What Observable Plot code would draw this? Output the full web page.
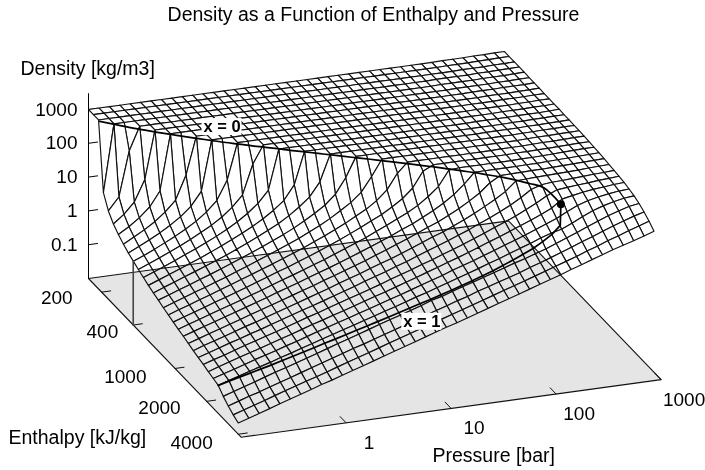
<!DOCTYPE html>
<html>
<head>
<meta charset="utf-8">
<script src="https://cdn.jsdelivr.net/npm/d3@7"></script>
<script src="https://cdn.jsdelivr.net/npm/@observablehq/plot@0.6"></script>
<style>body{margin:0;background:#fff}svg{display:block}</style>
</head>
<body>
<div id="chart"></div>
<script>
// Mesh axes: pressure [bar] per row, enthalpy [kJ/kg] per column
const pressure = [0.1,0.126,0.158,0.199,0.249,0.313,0.394,0.495,0.622,0.781,0.98,1.23,1.55,1.95,2.45,3.07,3.86,4.85,6.09,7.65,9.6,12.1,15.2,19,23.9,30,37.7,47.4,59.5,74.7,93.8,118,148,186,234,294,369,464,583,732,912];
const enthalpy = [150,167,187,208,232,259,289,323,360,402,448,500,558,622,694,775,864,964,1076,1200,1339,1494,1667,1860,2075,2315,2583,2882,3216,3588,4000];
// log10(density [kg/m3]); one row per pressure, one column per enthalpy
const logDensity = [
[3,3,3,1,.61,.38,.22,.09,-.02,-.11,-.2,-.28,-.36,-.43,-.49,-.56,-.62,-.68,-.74,-.79,-.85,-.91,-.96,-1.01,-1.07,-1.12,-1.17,-1.34,-1.47,-1.58,-1.67],
[3,3,3,2.99,.98,.62,.41,.26,.13,.02,-.07,-.16,-.24,-.31,-.38,-.45,-.51,-.57,-.63,-.69,-.75,-.8,-.86,-.91,-.97,-1.02,-1.07,-1.24,-1.37,-1.48,-1.57],
[3,3,3,2.99,2.3,.94,.63,.43,.28,.16,.06,-.04,-.12,-.2,-.27,-.34,-.41,-.47,-.53,-.59,-.65,-.71,-.76,-.82,-.87,-.93,-.98,-1.14,-1.27,-1.38,-1.47],
[3,3,3,2.99,2.99,1.56,.91,.63,.45,.31,.19,.09,0,-.08,-.16,-.23,-.3,-.37,-.43,-.49,-.55,-.61,-.66,-.72,-.77,-.83,-.88,-1.04,-1.18,-1.28,-1.37],
[3,3,3,2.99,2.99,2.99,1.34,.87,.63,.46,.33,.22,.12,.03,-.05,-.13,-.2,-.26,-.33,-.39,-.45,-.51,-.57,-.62,-.68,-.73,-.79,-.94,-1.08,-1.18,-1.27],
[3,3,3,2.99,2.99,2.99,2.99,1.18,.84,.63,.48,.35,.24,.15,.06,-.02,-.09,-.16,-.23,-.29,-.35,-.41,-.47,-.53,-.59,-.64,-.7,-.84,-.98,-1.08,-1.17],
[3,3,3,2.99,2.99,2.99,2.99,1.88,1.11,.82,.64,.49,.37,.27,.18,.09,.02,-.06,-.13,-.19,-.25,-.32,-.38,-.43,-.49,-.55,-.6,-.75,-.88,-.98,-1.07],
[3,3,3,2.99,2.99,2.99,2.99,2.99,1.51,1.05,.81,.64,.51,.39,.3,.21,.13,.05,-.02,-.09,-.15,-.22,-.28,-.34,-.39,-.45,-.51,-.65,-.78,-.88,-.97],
[3,3,3,2.99,2.99,2.99,2.99,2.99,2.99,1.35,1.01,.8,.65,.52,.42,.32,.24,.16,.08,.01,-.05,-.12,-.18,-.24,-.3,-.36,-.41,-.55,-.68,-.79,-.87],
[3,3,3,2.99,2.99,2.99,2.99,2.99,2.99,1.91,1.26,.98,.8,.66,.54,.44,.35,.27,.19,.12,.05,-.02,-.08,-.14,-.2,-.26,-.32,-.45,-.58,-.69,-.78],
[3,3,3,2.99,2.99,2.99,2.99,2.99,2.99,2.98,1.58,1.19,.96,.8,.67,.56,.46,.38,.3,.22,.15,.08,.02,-.04,-.1,-.16,-.22,-.35,-.48,-.59,-.68],
[3,3,3,2.99,2.99,2.99,2.99,2.99,2.99,2.98,2.45,1.44,1.14,.95,.8,.68,.58,.48,.4,.32,.25,.18,.11,.05,-.01,-.07,-.13,-.25,-.38,-.49,-.58],
[3,3,3,2.99,2.99,2.99,2.99,2.99,2.99,2.98,2.98,1.79,1.35,1.11,.94,.81,.7,.6,.51,.43,.35,.28,.21,.15,.09,.03,-.03,-.15,-.28,-.39,-.48],
[3,3,3,2.99,2.99,2.99,2.99,2.99,2.99,2.98,2.98,2.97,1.6,1.3,1.09,.94,.82,.71,.62,.54,.46,.38,.31,.25,.18,.12,.06,-.05,-.19,-.29,-.38],
[3,3,3,2.99,2.99,2.99,2.99,2.99,2.99,2.98,2.98,2.97,2.02,1.52,1.26,1.09,.95,.83,.73,.64,.56,.49,.41,.35,.28,.22,.16,.05,-.09,-.19,-.28],
[3,3,3,2.99,2.99,2.99,2.99,2.99,2.99,2.98,2.98,2.97,2.97,1.77,1.44,1.23,1.08,.95,.85,.75,.67,.59,.51,.44,.38,.31,.25,.15,.01,-.09,-.18],
[3,3,3,2.99,2.99,2.99,2.99,2.99,2.99,2.98,2.98,2.97,2.97,2.18,1.64,1.4,1.22,1.08,.97,.86,.77,.69,.62,.54,.48,.41,.35,.25,.11,.01,-.08],
[3,3,3,2.99,2.99,2.99,2.99,2.99,2.99,2.98,2.98,2.97,2.97,2.96,1.92,1.59,1.37,1.22,1.09,.98,.88,.8,.72,.64,.57,.51,.44,.34,.21,.11,.02],
[3,3,3,2.99,2.99,2.99,2.99,2.99,2.99,2.98,2.98,2.97,2.97,2.96,2.37,1.79,1.54,1.36,1.21,1.1,1,.91,.82,.75,.67,.6,.54,.44,.31,.21,.12],
[3,3,3,2.99,2.99,2.99,2.99,2.99,2.99,2.98,2.98,2.97,2.97,2.96,2.96,2.05,1.7,1.51,1.35,1.22,1.11,1.01,.93,.85,.77,.7,.64,.54,.41,.31,.22],
[3,3,3,2.99,2.99,2.99,2.99,2.99,2.99,2.98,2.98,2.97,2.97,2.96,2.96,2.47,1.91,1.65,1.49,1.34,1.23,1.12,1.03,.95,.87,.8,.73,.65,.51,.4,.32],
[3,3,3,2.99,2.99,2.99,2.99,2.99,2.99,2.98,2.98,2.97,2.97,2.96,2.96,2.95,2.19,1.84,1.64,1.48,1.35,1.24,1.15,1.06,.98,.9,.83,.73,.61,.5,.41],
[3,3,3,2.99,2.99,2.99,2.99,2.99,2.99,2.98,2.98,2.97,2.97,2.96,2.96,2.95,2.64,2.04,1.78,1.6,1.48,1.36,1.26,1.16,1.08,1,.93,.83,.71,.6,.51],
[3,3,3,2.99,2.99,2.99,2.99,2.99,2.99,2.98,2.98,2.97,2.97,2.96,2.96,2.95,2.93,2.31,1.95,1.75,1.61,1.48,1.37,1.27,1.19,1.11,1.03,.93,.8,.7,.61],
[3,3,3,2.99,2.99,2.99,2.99,2.99,2.99,2.98,2.98,2.97,2.97,2.96,2.96,2.95,2.93,2.77,2.17,1.91,1.73,1.59,1.48,1.38,1.29,1.21,1.13,1.02,.91,.8,.71],
[3,3,3,2.99,2.99,2.99,2.99,2.99,2.99,2.98,2.98,2.97,2.97,2.96,2.96,2.95,2.93,2.92,2.43,2.09,1.88,1.72,1.6,1.49,1.4,1.31,1.23,1.12,1,.9,.81],
[3,3,3,2.99,2.99,2.99,2.99,2.99,2.99,2.98,2.98,2.97,2.97,2.96,2.96,2.95,2.93,2.92,2.87,2.3,2.04,1.86,1.72,1.61,1.51,1.42,1.34,1.22,1.1,1,.91],
[3,3,3,2.99,2.99,2.99,2.99,2.99,2.99,2.98,2.98,2.97,2.97,2.96,2.96,2.95,2.93,2.92,2.9,2.57,2.22,2.01,1.86,1.73,1.63,1.53,1.44,1.32,1.19,1.1,1.01],
[3,3,3,2.99,2.99,2.99,2.99,2.99,2.99,2.98,2.98,2.97,2.97,2.96,2.96,2.95,2.93,2.92,2.9,2.88,2.42,2.17,1.99,1.86,1.74,1.64,1.55,1.42,1.29,1.2,1.11],
[3,3,3,2.99,2.99,2.99,2.99,2.99,2.99,2.98,2.98,2.97,2.97,2.96,2.96,2.95,2.93,2.92,2.9,2.88,2.68,2.34,2.13,1.98,1.86,1.75,1.66,1.51,1.4,1.3,1.21],
[3,3,3,2.99,2.99,2.99,2.99,2.99,2.99,2.98,2.98,2.97,2.97,2.96,2.96,2.95,2.93,2.92,2.9,2.88,2.85,2.53,2.28,2.11,1.98,1.86,1.76,1.61,1.5,1.4,1.31],
[3,3,3,2.99,2.99,2.99,2.99,2.99,2.99,2.98,2.98,2.97,2.97,2.96,2.96,2.95,2.93,2.92,2.9,2.88,2.86,2.8,2.46,2.26,2.1,1.98,1.88,1.71,1.61,1.51,1.41],
[3,3,3,3,3,2.99,2.99,2.99,2.99,2.98,2.98,2.98,2.97,2.97,2.96,2.95,2.94,2.92,2.9,2.88,2.86,2.82,2.66,2.41,2.23,2.1,1.98,1.83,1.72,1.61,1.52],
[3,3,3,3,3,3,2.99,2.99,2.99,2.99,2.98,2.98,2.97,2.97,2.96,2.95,2.94,2.93,2.91,2.89,2.87,2.83,2.76,2.58,2.37,2.22,2.06,1.95,1.83,1.71,1.62],
[3.01,3.01,3,3,3,3,3,2.99,2.99,2.99,2.98,2.98,2.97,2.97,2.96,2.95,2.94,2.93,2.91,2.89,2.87,2.84,2.79,2.72,2.6,2.38,2.19,2.07,1.95,1.83,1.73],
[3.01,3.01,3.01,3,3,3,3,3,2.99,2.99,2.99,2.98,2.98,2.97,2.97,2.96,2.95,2.94,2.92,2.9,2.88,2.85,2.8,2.75,2.66,2.52,2.34,2.2,2.06,1.93,1.83],
[3.01,3.01,3.01,3.01,3.01,3,3,3,3,2.99,2.99,2.99,2.98,2.98,2.97,2.97,2.96,2.94,2.93,2.91,2.89,2.86,2.82,2.78,2.72,2.62,2.48,2.32,2.18,2.05,1.94],
[3.02,3.02,3.01,3.01,3.01,3.01,3.01,3,3,3,2.99,2.99,2.99,2.98,2.98,2.97,2.96,2.95,2.94,2.92,2.9,2.87,2.84,2.8,2.76,2.69,2.58,2.44,2.29,2.15,2.03],
[3.02,3.02,3.02,3.02,3.01,3.01,3.01,3.01,3,3,3,2.99,2.99,2.99,2.98,2.98,2.97,2.96,2.95,2.93,2.91,2.89,2.86,2.83,2.79,2.74,2.66,2.54,2.4,2.26,2.12],
[3.03,3.03,3.02,3.02,3.02,3.02,3.01,3.01,3.01,3.01,3,3,3,2.99,2.99,2.98,2.98,2.97,2.96,2.94,2.92,2.9,2.87,2.85,2.82,2.78,2.72,2.63,2.5,2.36,2.22],
[3.03,3.03,3.03,3.03,3.03,3.02,3.02,3.02,3.01,3.01,3.01,3.01,3,3,2.99,2.99,2.98,2.97,2.96,2.95,2.93,2.91,2.89,2.87,2.84,2.8,2.75,2.68,2.58,2.46,2.32]
];
// Saturation lines, ending at the critical point
const satPressure = [0.1,0.126,0.158,0.199,0.249,0.313,0.394,0.495,0.622,0.781,0.98,1.23,1.55,1.95,2.45,3.07,3.86,4.85,6.09,7.65,9.6,12.1,15.2,19,23.9,30,37.7,47.4,59.5,74.7,93.8,118,148,186,220];
const satLiquidH = [192,211,231,251,272,293,316,339,364,390,415,444,470,500,533,564,598,635,673,712,753,800,847,897,953,1008,1073,1141,1212,1295,1379,1486,1606,1750,2150];
const satVaporH = [2584,2592,2601,2609,2618,2626,2635,2645,2655,2665,2675,2685,2695,2706,2716,2726,2737,2747,2757,2767,2776,2784,2791,2797,2802,2804,2803,2797,2786,2765,2739,2692,2625,2510,2150];
const satLiquidRho = [990,988,986,983,980,978,975,971,967,963,959,954,949,943,937,930,923,915,906,897,887,875,863,850,834,822,802,780,758,730,700,660,612,545,322];
const satVaporRho = [0.068,0.083,0.1,0.12,0.145,0.175,0.215,0.265,0.325,0.4,0.495,0.605,0.75,0.93,1.15,1.42,1.76,2.2,2.75,3.4,4.2,5.3,6.6,8.3,10.5,13.4,17.2,22.4,29.2,38,50,68,93,135,322];
const critical = {P:220, h:2150, rho:322};
// Axis ticks
const densityTicks = [1000,100,10,1,0.1];
const enthalpyTicks = [200,400,1000,2000,4000];
const pressureTicks = [1,10,100,1000];
const P0=0.1, P1=1000, H0=150, H1=4260, RHO0=0.01, RHO1=2950;

// Oblique view: screen axes in "decades", per decade of P and h
const PX=105, PY=14.4, HY=109.2, ZY=33.8, X0=88, Y0=278;
const U=p=>Math.log10(p/P0), V=h=>Math.log10(h/H0);
const sx=(p,h)=>U(p)+V(h);
const sy=(p,h,lr)=>(lr-Math.log10(RHO0))+(PY/ZY)*U(p)-(HY/ZY)*V(h);
const pt=(p,h,rho)=>({x:sx(p,h),y:sy(p,h,Math.log10(rho))});

// Surface cells, painted far to near so nearer cells hide what lies behind
const cells=[]; let id=0;
for(let i=pressure.length-2;i>=0;i--)for(let j=0;j<enthalpy.length-1;j++){
  id++;
  for(const [a,b] of [[i,j],[i+1,j],[i+1,j+1],[i,j+1],[i,j]])
    cells.push({id,x:sx(pressure[a],enthalpy[b]),y:sy(pressure[a],enthalpy[b],logDensity[a][b])});
}
const floorPts=[[P0,H0],[P1,H0],[P1,H1],[P0,H1],[P0,H0]].map(([p,h])=>pt(p,h,RHO0));
const satLiquid=satPressure.map((p,i)=>pt(p,satLiquidH[i],satLiquidRho[i]));
const satVapor=satPressure.map((p,i)=>pt(p,satVaporH[i],satVaporRho[i]));
const zAxis=[pt(P0,H0,RHO0),pt(P0,H0,RHO1)];
const h400Post=[pt(P0,400,RHO0),pt(P0,400,0.78)];
const seg=(a,b,k)=>[{...a,k},{...b,k}];
const zTickSegs=densityTicks.flatMap((r,k)=>seg(pt(P0,H0,r),pt(P0*1.22,H0,r),k));
const hTickSegs=enthalpyTicks.flatMap((h,k)=>seg(pt(P0,h,RHO0),pt(P0*1.22,h,RHO0),k));
const pTickSegs=pressureTicks.flatMap((p,k)=>seg(pt(p,H1,RHO0),pt(p,H1/1.14,RHO0),k));
const boxW=20/PX, boxH=8.5/ZY;
const xLabels=[
 {...pt(0.71,378,969),t:"x = 0",dx:2,dy:-14.5},
 {...pt(8.1,2770,4.16),t:"x = 1",dx:0,dy:21}
];
const font="Liberation Sans, Arial, Helvetica, sans-serif", fs=19, ts=19.5;
const T=(arr,o)=>Plot.text(arr,{fontSize:fs,fill:"black",stroke:"none",...o});
const lab=(s,dx,dy,a="start")=>Plot.text([s],{text:d=>d,frameAnchor:"top-left",dx,dy,textAnchor:a,lineAnchor:"middle",fontSize:ts,fill:"black"});
const box=l=>Plot.rect([l],{x1:d=>d.x-boxW,x2:d=>d.x+boxW,y1:d=>d.y-boxH,y2:d=>d.y+boxH,fill:"white",dx:l.dx,dy:l.dy});
const hLabelMark=(h,dx,dy)=>T([{...pt(P0,h,RHO0),t:String(h)}],{x:"x",y:"y",text:"t",textAnchor:"end",dx,dy});

const chart=Plot.plot({
  width:705,height:470,margin:0,
  style:{fontFamily:font,background:"white"},
  x:{axis:null,domain:[-X0/PX,(705-X0)/PX],range:[0,705]},
  y:{axis:null,domain:[(Y0-470)/ZY,Y0/ZY],range:[470,0]},
  marks:[
    Plot.line(zAxis,{x:"x",y:"y",stroke:"black",strokeWidth:1}),
    Plot.line(zTickSegs,{x:"x",y:"y",z:"k",stroke:"black",strokeWidth:1}),
    Plot.line(cells,{x:"x",y:"y",z:"id",fill:"white",stroke:"#111",strokeWidth:1.15,strokeLinejoin:"miter"}),
    Plot.line(floorPts,{x:"x",y:"y",fill:"#e5e5e5",stroke:"none",mixBlendMode:"multiply"}),
    Plot.line(floorPts,{x:"x",y:"y",stroke:"#111",strokeWidth:1.1}),
    Plot.line(hTickSegs,{x:"x",y:"y",z:"k",stroke:"#111",strokeWidth:1}),
    Plot.line(pTickSegs,{x:"x",y:"y",z:"k",stroke:"#111",strokeWidth:1}),
    Plot.line(h400Post,{x:"x",y:"y",stroke:"#444",strokeWidth:1.6}),
    Plot.line(satLiquid,{x:"x",y:"y",stroke:"black",strokeWidth:1.7,curve:"monotone-x"}),
    Plot.line(satVapor,{x:"x",y:"y",stroke:"black",strokeWidth:1.7}),
    Plot.dot([pt(critical.P,critical.h,critical.rho)],{x:"x",y:"y",r:4,fill:"black",stroke:"none"}),
    T(densityTicks.map(r=>({...pt(P0,H0,r),t:String(r)})),{x:"x",y:"y",text:"t",textAnchor:"end",dx:-11}),
    hLabelMark(200,-29,5.5),
    hLabelMark(400,-15,6.5),
    hLabelMark(1000,-28.5,8),
    hLabelMark(2000,-26,7),
    hLabelMark(4000,-25.5,9),
    T(pressureTicks.map(p=>({...pt(p,H1,RHO0),t:String(p)})),{x:"x",y:"y",text:"t",dx:23,dy:20}),
    ...xLabels.map(box),
    ...xLabels.map(l=>T([l],{x:"x",y:"y",text:"t",dx:l.dx,dy:l.dy,fontWeight:"bold",fontSize:16.5})),
    lab("Density as a Function of Enthalpy and Pressure",373,14,"middle"),
    lab("Density [kg/m3]",20,68),
    lab("Enthalpy [kJ/kg]",8,437),
    lab("Pressure [bar]",432,455)
  ]
});
document.getElementById("chart").appendChild(chart);
</script>
</body>
</html>
